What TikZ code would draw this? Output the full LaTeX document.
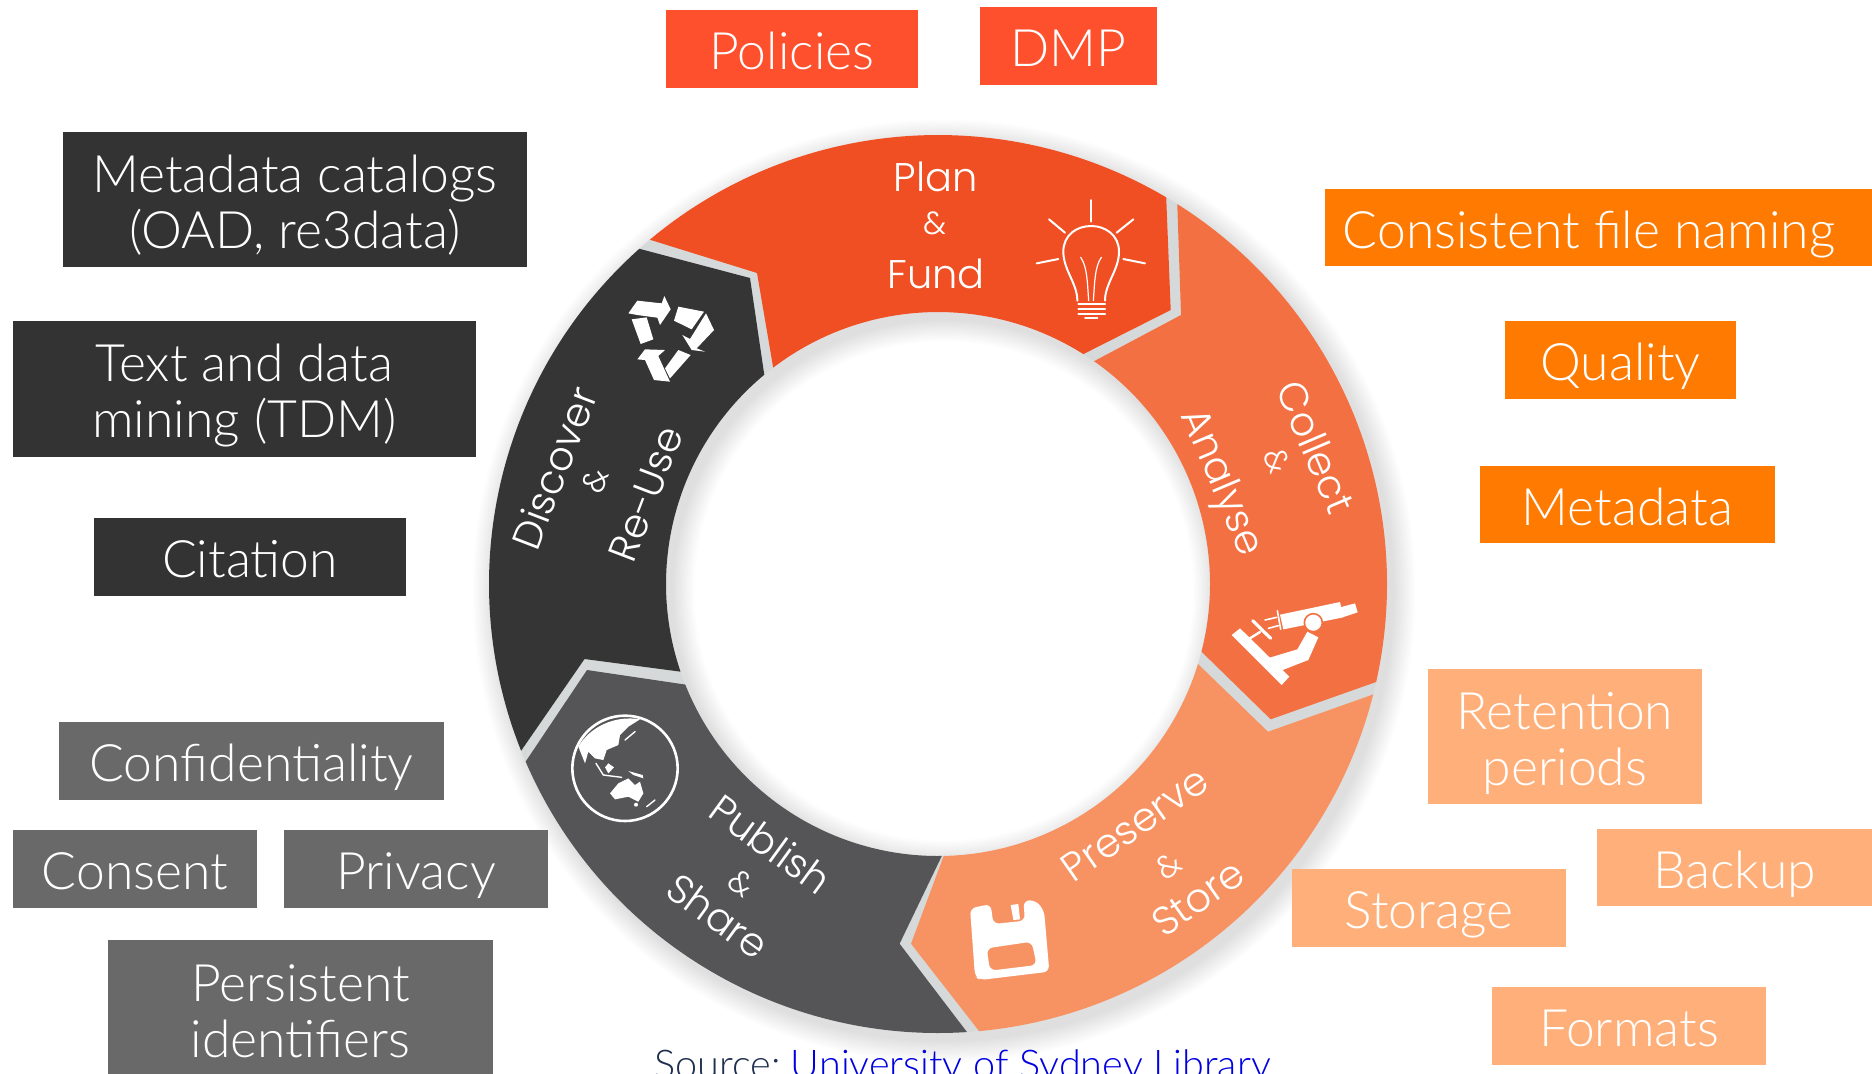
\documentclass[tikz,border=0pt]{standalone}
\usepackage{fontspec}
\setmainfont{Lato Light}
\newfontfamily\ringfont{Poppins Light}
\usetikzlibrary{calc}
\definecolor{cred}{HTML}{FF502E}
\definecolor{corange}{HTML}{FF7A00}
\definecolor{clight}{HTML}{FFB07A}
\definecolor{cdark}{HTML}{333333}
\definecolor{cgray}{HTML}{696969}
\definecolor{segplan}{HTML}{F04E23}
\definecolor{segcollect}{HTML}{F37043}
\definecolor{segpreserve}{HTML}{F79263}
\definecolor{segpublish}{HTML}{555557}
\definecolor{segdiscover}{HTML}{353535}
\definecolor{gapgray}{HTML}{D6D9D9}
\definecolor{srcink}{HTML}{1F2F4F}
\definecolor{srclink}{HTML}{0000E0}
\newcommand{\tl}[1]{\rule[-.1em]{0pt}{1em}\smash{#1}}
\newcommand{\lbl}[7]{%
  \pgfmathsetmacro{\cxx}{(#2+#4)/2}\pgfmathsetmacro{\cyy}{(#3+#5)/2}%
  \pgfmathsetmacro{\ww}{(#4-#2)*0.5}\pgfmathsetmacro{\hh}{(#5-#3)*0.5}%
  \node[tagbox,fill=#6,minimum width=\ww pt,minimum height=\hh pt] (#1) at (\cxx,\cyy) {#7};}
\tikzset{
  tagbox/.style={inner sep=0pt,outer sep=0pt,text=white,align=center,font=\fontsize{25.8}{28}\selectfont},
  ringtxt/.style={inner sep=0pt,text=white,font=\ringfont\fontsize{20}{24}\selectfont},
  ringamp/.style={inner sep=0pt,text=white,font=\ringfont\fontsize{16}{24}\selectfont},
  seam/.style={fill=gapgray},
  icon/.style={draw=white,line width=1pt,line cap=round,line join=round},
  iconf/.style={fill=white,line join=round}
}
\begin{document}
\begin{tikzpicture}[x=0.5pt,y=0.5pt,yscale=-1]
\useasboundingbox (0,0) rectangle (1872,1073);
\fill[white] (0,0) rectangle (1872,1073);
\coordinate (c) at (938,584);
% soft shadow
\foreach \i in {1,...,16}
  \fill[black,opacity=.007,even odd rule] (944,591) circle[radius=449+\i*1.4] (944,591) circle[radius=272-\i*1.4];
% seams
\fill[seam] ([shift={(300.55:449)}]c) -- (1170.7,310) -- ([shift={(302.3:272)}]c) -- ([shift={(305:272)}]c) -- (1181,315) -- ([shift={(302.2:449)}]c) -- cycle;
\fill[seam] ([shift={(12.6:449)}]c) -- (1270.7,719.3) -- ([shift={(14.4:272)}]c) -- ([shift={(17.1:272)}]c) -- (1268,731.7) -- ([shift={(14.24:449)}]c) -- cycle;
\fill[seam] ([shift={(84.75:449)}]c) -- (911,943.7) -- ([shift={(88.8:272)}]c) -- ([shift={(89.2:272)}]c) -- (899.6,943.7) -- ([shift={(86.3:449)}]c) -- cycle;
\fill[seam] ([shift={(156.7:449)}]c) -- (587,670) -- ([shift={(158.3:272)}]c) -- ([shift={(161.2:272)}]c) -- (584.5,659) -- ([shift={(158.2:449)}]c) -- cycle;
\fill[seam] ([shift={(228.3:449)}]c) -- (750,278) -- ([shift={(230.3:272)}]c) -- ([shift={(232.7:272)}]c) -- (757,273) -- ([shift={(230.07:449)}]c) -- cycle;
% segments
\fill[segdiscover] ([shift={(158.2:449)}]c) arc[start angle=158.2,end angle=228.3,radius=449] -- (750,278) -- ([shift={(230.3:272)}]c) arc[start angle=230.3,end angle=161.2,radius=272] -- (584.5,659) -- cycle;
\fill[segpublish] ([shift={(86.3:449)}]c) arc[start angle=86.3,end angle=156.7,radius=449] -- (587,670) -- ([shift={(158.3:272)}]c) arc[start angle=158.3,end angle=89.2,radius=272] -- (899.6,943.7) -- cycle;
\fill[segpreserve] ([shift={(14.24:449)}]c) arc[start angle=14.24,end angle=84.75,radius=449] -- (911,943.7) -- ([shift={(88.8:272)}]c) arc[start angle=88.8,end angle=17.1,radius=272] -- (1268,731.7) -- cycle;
\fill[segcollect] ([shift={(302.2:449)}]c) arc[start angle=302.2,end angle=372.6,radius=449] -- (1270.7,719.3) -- ([shift={(374.4:272)}]c) arc[start angle=374.4,end angle=305,radius=272] -- (1181,315) -- cycle;
\fill[segplan] ([shift={(230.07:449)}]c) arc[start angle=230.07,end angle=300.55,radius=449] -- (1170.7,310) -- ([shift={(302.3:272)}]c) arc[start angle=302.3,end angle=232.7,radius=272] -- (757,273) -- cycle;
% ring text
\node[ringtxt] (plan) at (936,177) {Plan};
\node[ringamp] (planamp) at (935,223) {\&};
\node[ringtxt] (fund) at (936,274) {Fund};
\node[ringtxt,rotate=-67] (collect) at (1316,447) {Collect};
\node[ringamp,rotate=-67] (collectamp) at (1277,461) {\&};
\node[ringtxt,rotate=-67] (analyse) at (1220,483) {Analyse};
\node[ringtxt,rotate=35] (preserve) at (1135,824) {Preserve};
\node[ringamp,rotate=35] (preserveamp) at (1168,866) {\&};
\node[ringtxt,rotate=35] (store) at (1198,898) {Store};
\node[ringtxt,rotate=-36] (publish) at (771,844) {Publish};
\node[ringamp,rotate=-36] (publishamp) at (741,883) {\&};
\node[ringtxt,rotate=-36] (share) at (718,916) {Share};
\node[ringtxt,rotate=69] (discover) at (554,468) {Discover};
\node[ringamp,rotate=69] (discoveramp) at (595,481) {\&};
\node[ringtxt,rotate=69] (reuse) at (646,494) {Re-Use};
% bulb
\begin{scope}[shift={(1000,150)},scale=1/3]
\draw[icon] (273,150) -- (273,215);
\draw[icon] (147,208) -- (195,248);
\draw[icon] (400,208) -- (350,248);
\draw[icon] (110,340) -- (175,327);
\draw[icon] (370,327) -- (435,340);
\draw[icon] (232,452) .. controls (232,400) and (190,360) .. (190,305) .. controls (190,255) and (230,228) .. (273,228) .. controls (316,228) and (357,255) .. (357,305) .. controls (357,360) and (315,400) .. (315,452);
\draw[icon,line width=.6pt] (242,322) .. controls (262,350) and (262,400) .. (266,452);
\draw[icon,line width=.6pt] (304,322) .. controls (284,350) and (284,400) .. (280,452);
\draw[icon] (235,462) -- (315,462);
\draw[icon] (235,477) -- (315,477);
\draw[icon] (235,492) -- (315,492);
\draw[icon] (255,505) -- (292,505);
\end{scope}
% microscope
\begin{scope}[shift={(1180,560)},scale=1/3]
\fill[iconf] (155,225) -- (180,205) -- (328,350) -- (305,375) -- cycle;
\fill[iconf] (262,295) -- (352,268) -- (382,215) -- (415,232) -- (385,300) -- (308,330) -- cycle;
\fill[iconf] (300,164) -- (480,126) -- (490,172) -- (310,208) -- cycle;
\fill[iconf] (480,142) -- (525,130) -- (533,157) -- (488,172) -- cycle;
\fill[iconf,draw=segcollect,line width=.8pt] (400,188) circle[radius=27];
\draw[icon,line width=.8pt] (292,152) -- (302,208);
\draw[icon,line width=.8pt] (255,180) -- (290,172);
\draw[icon,line width=.8pt] (265,205) -- (295,197);
\draw[icon,line width=1.6pt] (218,182) -- (272,235);
\draw[icon,line width=1.2pt] (205,238) -- (240,216);
\end{scope}
% recycle
\begin{scope}[shift={(550,270)},scale=1/3]
\fill[iconf] (235,130) -- (262,92) -- (335,100) -- (343,78) -- (362,118) -- (330,165) -- (322,143) -- (262,135) -- cycle;
\fill[iconf] (245,148) -- (290,142) -- (310,208) -- (272,222) -- cycle;
\fill[iconf] (385,110) -- (462,125) -- (425,178) -- (372,152) -- cycle;
\fill[iconf] (468,130) -- (492,180) -- (440,235) -- (465,245) -- (425,240) -- (397,195) -- (420,207) -- cycle;
\fill[iconf] (385,240) -- (422,255) -- (360,325) -- (345,295) -- cycle;
\fill[iconf] (262,268) -- (285,238) -- (345,240) -- (325,258) -- (360,335) -- (312,330) -- (285,270) -- cycle;
\end{scope}
% globe
\begin{scope}[shift={(540,680)},scale=1/3]
\draw[icon,line width=1.3pt] (255,265) circle[radius=158];
\fill[iconf] (115,200) .. controls (150,140) and (225,105) .. (300,118) -- (265,140) -- (240,165) -- (235,195) -- (200,210) -- (190,240) -- (165,235) -- (145,215) -- (135,250) -- cycle;
\draw[icon,line width=.7pt] (168,250) -- (190,285) -- (245,292);
\draw[icon,line width=.7pt] (255,180) -- (285,155);
\fill[iconf] (205,250) -- (222,262) -- (205,280) -- (195,262) -- cycle;
\fill[iconf] (265,273) -- (308,285) -- (310,295) -- (280,285) -- cycle;
\fill[iconf] (210,340) -- (235,310) -- (265,295) -- (285,315) -- (300,305) -- (310,340) -- (295,365) -- (265,350) -- (225,358) -- cycle;
\draw[icon,line width=.7pt] (320,380) -- (345,360);
\fill[iconf] (288,374) circle[radius=6];
\end{scope}
% floppy
\begin{scope}[shift={(940,880)},scale=1/3]
\fill[iconf,rounded corners=3pt,even odd rule] (90,85) -- (152,72) -- (160,132) -- (255,122) -- (250,62) -- (285,60) -- (312,90) -- (328,275) -- (120,300) -- (105,290) -- cycle (140,205) -- (275,185) -- (290,255) -- (150,272) -- cycle;
\fill[iconf] (212,75) -- (235,72) -- (240,118) -- (220,120) -- cycle;
\end{scope}
% labels
\lbl{policies}{666}{10}{918}{88}{cred}{\tl{Policies}}
\lbl{dmp}{980}{7}{1157}{85}{cred}{\tl{DMP}}
\lbl{catalogs}{63}{132}{527}{267}{cdark}{\tl{Metadata catalogs}\\\tl{(OAD, re3data)}}
\lbl{tdm}{13}{321}{476}{457}{cdark}{\tl{Text and data}\\\tl{mining (TDM)}}
\lbl{citation}{94}{518}{406}{596}{cdark}{\tl{Citation}}
\lbl{confidentiality}{59}{722}{444}{800}{cgray}{\tl{Confidentiality}}
\lbl{consent}{13}{830}{257}{908}{cgray}{\tl{Consent}}
\lbl{privacy}{284}{830}{548}{908}{cgray}{\tl{Privacy}}
\lbl{persistent}{108}{940}{493}{1077}{cgray}{\tl{Persistent}\\\tl{identifiers}}
\lbl{naming}{1325}{189}{1872}{266}{corange}{\tl{Consistent file naming}\hspace{9.5pt}}
\lbl{quality}{1505}{321}{1736}{399}{corange}{\tl{Quality}}
\lbl{metadata}{1480}{466}{1775}{543}{corange}{\tl{Metadata}}
\lbl{retention}{1428}{669}{1702}{804}{clight}{\tl{Retention}\\\tl{periods}}
\lbl{backup}{1597}{829}{1872}{906}{clight}{\tl{Backup}}
\lbl{storage}{1292}{869}{1566}{947}{clight}{\tl{Storage}}
\lbl{formats}{1492}{987}{1766}{1065}{clight}{\tl{Formats}}
\node[inner sep=0pt,anchor=base west,font=\fontsize{19.8}{24}\selectfont,text=srcink] (source) at (654,1078) {Source:\hspace{-.1em} \textcolor{srclink}{University of Sydney Library}};
\end{tikzpicture}
\end{document}
